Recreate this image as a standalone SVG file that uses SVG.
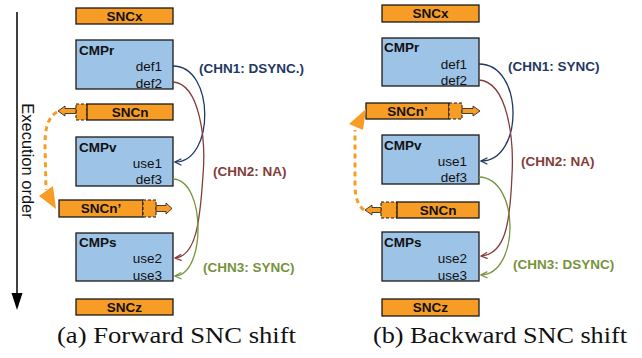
<svg xmlns="http://www.w3.org/2000/svg" width="642" height="358" viewBox="0 0 642 358">
<defs>
<style>
.snc{fill:#f79d25;stroke:#1a1a1a;stroke-width:1.3}
.ext{fill:#f79d25;stroke:#1a1a1a;stroke-width:1;stroke-dasharray:3,2}
.blk{fill:#f79d25;stroke:#1a1a1a;stroke-width:0.8}
.cmp{fill:#9dc3e6;stroke:#1a1a1a;stroke-width:1.3}
.t{font-family:"Liberation Sans",Arial,sans-serif;font-size:13.5px;fill:#111}
.b{font-weight:bold}
.c{text-anchor:middle}
.e{text-anchor:end}
.lbl{font-family:"Liberation Sans",Arial,sans-serif;font-size:13.5px;font-weight:bold}
.cap{font-family:"Liberation Serif","Times New Roman",serif;font-size:23px;fill:#111}
.w{fill:none;stroke-width:1.3}
.n{stroke:#1f3864}
.r{stroke:#843c39}
.g{stroke:#77933c}
.od{fill:none;stroke:#f79d25;stroke-width:3;stroke-dasharray:5,4}
</style>
<marker id="an" viewBox="0 0 10 10" refX="9" refY="5" markerWidth="8" markerHeight="8" markerUnits="userSpaceOnUse" orient="auto"><path d="M1,1 L9,5 L1,9" fill="none" stroke="#1f3864" stroke-width="1.5"/></marker>
<marker id="ar" viewBox="0 0 10 10" refX="9" refY="5" markerWidth="8" markerHeight="8" markerUnits="userSpaceOnUse" orient="auto"><path d="M1,1 L9,5 L1,9" fill="none" stroke="#843c39" stroke-width="1.5"/></marker>
<marker id="ag" viewBox="0 0 10 10" refX="9" refY="5" markerWidth="8" markerHeight="8" markerUnits="userSpaceOnUse" orient="auto"><path d="M1,1 L9,5 L1,9" fill="none" stroke="#77933c" stroke-width="1.5"/></marker>
</defs>
<rect width="642" height="358" fill="#fff"/>

<g id="axis">
<line x1="17" y1="12" x2="17" y2="295" stroke="#000" stroke-width="1.5"/>
<polygon points="11.5,293 22.5,293 17,310" fill="#000"/>
<text class="t" style="font-size:16.5px" text-anchor="middle" transform="translate(22,161) rotate(90)">Execution order</text>
</g>

<!-- Left panel -->
<g id="a_sncx"><rect class="snc" x="76" y="8" width="97" height="16"/><text class="t b c" x="124.5" y="20.5">SNCx</text></g>
<g id="a_cmpr"><rect class="cmp" x="76" y="40" width="97" height="49"/><text class="t b" x="79" y="55">CMPr</text><text class="t e" x="162" y="71">def1</text><text class="t e" x="162" y="88">def2</text></g>
<g id="a_sncn"><rect class="ext" x="76" y="104" width="11" height="16"/><rect class="snc" x="87" y="104" width="86" height="16"/><polygon class="blk" points="58,111 65,106 65,108.5 76,108.5 76,113.5 65,113.5 65,116"/><text class="t b c" x="130" y="116.5">SNCn</text></g>
<g id="a_cmpv"><rect class="cmp" x="76" y="137" width="97" height="49"/><text class="t b" x="79" y="152">CMPv</text><text class="t e" x="162" y="168">use1</text><text class="t e" x="162" y="184">def3</text></g>
<g id="a_sncn2"><rect class="snc" x="59" y="200" width="84" height="17"/><rect class="ext" x="143" y="200" width="13" height="17"/><polygon class="blk" points="156,205.5 166,205.5 166,203 172,208.5 166,214 166,211.5 156,211.5"/><text class="t b c" x="101" y="213">SNCn’</text></g>
<g id="a_cmps"><rect class="cmp" x="76" y="233" width="97" height="48"/><text class="t b" x="79" y="247">CMPs</text><text class="t e" x="162" y="263">use2</text><text class="t e" x="162" y="280">use3</text></g>
<g id="a_sncz"><rect class="snc" x="76" y="299" width="97" height="16"/><text class="t b c" x="124.5" y="311.5">SNCz</text></g>

<!-- Right panel -->
<g id="b_sncx"><rect class="snc" x="382" y="5" width="97" height="17"/><text class="t b c" x="430.5" y="18">SNCx</text></g>
<g id="b_cmpr"><rect class="cmp" x="382" y="38" width="97" height="48"/><text class="t b" x="384" y="52">CMPr</text><text class="t e" x="467" y="69">def1</text><text class="t e" x="467" y="85">def2</text></g>
<g id="b_sncn2"><rect class="snc" x="366" y="103" width="83" height="16"/><rect class="ext" x="449" y="103" width="13" height="16"/><polygon class="blk" points="462,108.5 473,108.5 473,106 480,111 473,116 473,113.5 462,113.5"/><text class="t b c" x="407.5" y="115.5">SNCn’</text></g>
<g id="b_cmpv"><rect class="cmp" x="382" y="135" width="97" height="49"/><text class="t b" x="384" y="150">CMPv</text><text class="t e" x="467" y="166">use1</text><text class="t e" x="467" y="182">def3</text></g>
<g id="b_sncn"><rect class="ext" x="381" y="202" width="16" height="16"/><rect class="snc" x="397" y="202" width="82" height="16"/><polygon class="blk" points="365,210 372,205 372,207.5 381,207.5 381,212.5 372,212.5 372,215"/><text class="t b c" x="438" y="214.5">SNCn</text></g>
<g id="b_cmps"><rect class="cmp" x="382" y="232" width="97" height="49"/><text class="t b" x="384" y="247">CMPs</text><text class="t e" x="467" y="263">use2</text><text class="t e" x="467" y="280">use3</text></g>
<g id="b_sncz"><rect class="snc" x="382" y="299" width="97" height="17"/><text class="t b c" x="430.5" y="312">SNCz</text></g>

<g id="connectors">
<path class="w n" d="M173,66 C215,66 215,162 175,162" marker-end="url(#an)"/>
<path class="w r" d="M173,82 C200,84 206,140 203,175 C200,222 196,256 175,258" marker-end="url(#ar)"/>
<path class="w g" d="M173,179 C206,180 206,275 175,276" marker-end="url(#ag)"/>
<path class="od" d="M57,112 C47,118 45,130 45,145 L46,190"/>
<polygon points="56,209 39,196 53,186" fill="#f79d25"/>

<path class="w n" d="M479,64 C524,64 524,161 481,161" marker-end="url(#an)"/>
<path class="w r" d="M479,80 C508,82 514,140 512,175 C510,225 505,254 481,256" marker-end="url(#ar)"/>
<path class="w g" d="M479,177 C520,178 520,274 481,275" marker-end="url(#ag)"/>
<path class="od" d="M364,210 C357,205 355,195 355,185 L355,130"/>
<polygon points="366,109 349,124 363,130" fill="#f79d25"/>
</g>

<g id="labels">
<text class="lbl" x="199" y="73" fill="#1f3864">(CHN1: DSYNC.)</text>
<text class="lbl" x="213" y="176" fill="#843c39">(CHN2: NA)</text>
<text class="lbl" x="203" y="272" fill="#77933c">(CHN3: SYNC)</text>
<text class="lbl" x="508" y="71" fill="#1f3864">(CHN1: SYNC)</text>
<text class="lbl" x="521" y="166" fill="#843c39">(CHN2: NA)</text>
<text class="lbl" x="513" y="269" fill="#77933c">(CHN3: DSYNC)</text>
<text class="cap" x="57" y="343" textLength="239" lengthAdjust="spacingAndGlyphs">(a) Forward SNC shift</text>
<text class="cap" x="373" y="343" textLength="254" lengthAdjust="spacingAndGlyphs">(b) Backward SNC shift</text>
</g>
</svg>
